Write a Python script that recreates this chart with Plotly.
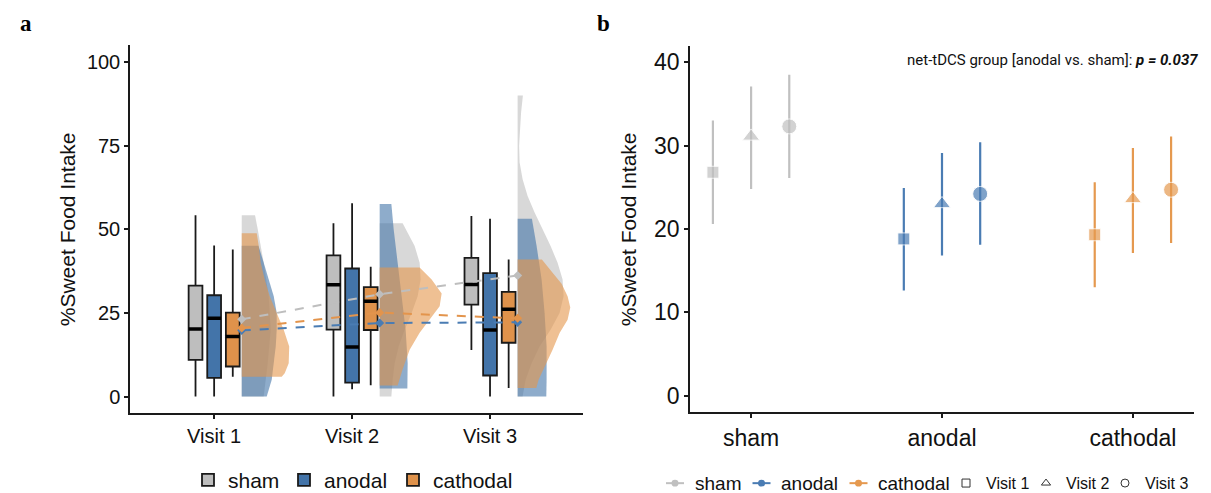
import plotly.graph_objects as go

# ---------------- data ----------------
visits = ["Visit 1", "Visit 2", "Visit 3"]
groups = ["sham", "anodal", "cathodal"]

# Panel a: box statistics (Visit 1, Visit 2, Visit 3)
sham_low = [0.0, 0.0, 13.9]
sham_q1 = [11.0, 20.0, 27.5]
sham_med = [20.2, 33.4, 33.5]
sham_q3 = [33.2, 42.2, 41.5]
sham_high = [54.2, 51.8, 54.0]

anodal_low = [0.0, 2.2, 0.0]
anodal_q1 = [5.6, 4.2, 6.3]
anodal_med = [23.4, 14.8, 19.9]
anodal_q3 = [30.3, 38.3, 36.9]
anodal_high = [45.2, 57.8, 53.2]

cathodal_low = [5.9, 3.4, 2.6]
cathodal_q1 = [9.0, 19.9, 16.1]
cathodal_med = [18.0, 28.5, 26.1]
cathodal_q3 = [25.1, 32.7, 31.3]
cathodal_high = [44.0, 38.8, 41.0]

# Panel a: group means (dashed lines)
sham_mean = [23.1, 30.6, 36.2]
anodal_mean = [19.8, 22.0, 22.2]
cathodal_mean = [20.5, 25.1, 23.4]

# Panel a: half-violin density profiles (levels and relative density), per visit
sham_dens_y = [
    [54.2, 50, 40, 30, 20, 10, 0],
    [51.8, 45, 40, 35, 30, 25, 20, 15, 10, 5, 0],
    [90, 85, 80, 75, 70, 65, 60, 55, 50, 45, 40, 35, 30, 25, 20, 15, 10, 5, 0],
]
sham_dens = [
    [13.3, 16, 22, 27, 29, 26, 22],
    [23, 35, 40, 41, 38, 32, 25, 19, 15, 13, 11.7],
    [5.3, 3.5, 2.2, 1.5, 2, 5, 10, 17, 25, 33, 40, 45, 46, 42, 33, 22, 14, 8, 5],
]
anodal_dens_y = [
    [45.1, 40, 35, 30, 25, 20, 15, 10, 5, 0],
    [57.6, 50, 40, 30, 20, 10, 2.4],
    [53.2, 45, 35, 25, 15, 5, 0],
]
anodal_dens = [
    [16.7, 22, 27, 32, 35, 35, 34, 32, 30, 25],
    [11.7, 14, 18, 22, 26, 28, 27.7],
    [14.3, 19, 24, 27, 29, 29, 28.7],
]
cathodal_dens_y = [
    [48.8, 45, 40, 35, 30, 25, 20, 15, 10, 7, 5.9],
    [38.6, 35, 30.8, 27, 24.1, 19.1, 14, 8.2, 3.3],
    [41.0, 37, 33.7, 30, 26.6, 23, 19, 14, 9.4, 5, 2.6],
]
cathodal_dens = [
    [15, 17, 19, 23, 28, 35, 42, 47.5, 47, 43, 40],
    [40, 52, 62, 60, 53, 40, 30, 23, 18],
    [24.3, 35, 44, 50, 52.7, 50, 42, 35, 27.7, 21, 18.7],
]

# Panel b: estimated means with intervals (Visit 1, 2, 3)
b_sham = [26.8, 31.1, 32.3]
b_sham_lo = [20.6, 24.8, 26.1]
b_sham_hi = [33.0, 37.1, 38.5]
b_anodal = [18.8, 23.0, 24.2]
b_anodal_lo = [12.6, 16.8, 18.1]
b_anodal_hi = [24.9, 29.1, 30.4]
b_cathodal = [19.3, 23.6, 24.7]
b_cathodal_lo = [13.0, 17.1, 18.3]
b_cathodal_hi = [25.6, 29.7, 31.1]

# ---------------- styles ----------------
BOX_COL = {"sham": "#BEBEBE", "anodal": "#4374A9", "cathodal": "#DF924B"}
VIO_COL = {"sham": "rgba(190,190,190,0.6)", "anodal": "rgba(67,116,169,0.6)",
           "cathodal": "rgba(228,150,75,0.6)"}
LINE_COL = {"sham": "#BEBEBE", "anodal": "#4A7CB3", "cathodal": "#E3944C"}
B_COL = {"sham": "#C0C0C0", "anodal": "#4A7CB3", "cathodal": "#E5994F"}
FONT = "Liberation Sans, Arial, sans-serif"
DODGE = 0.135
BOX_W = 0.1
VIO_OFF = 0.2
DENS_SCALE = 1 / 138.0
B_DODGE = 0.2
SYMBOLS = ["square", "triangle-up", "circle"]
SIZES = [12, 15, 15]
W, H = 1211, 493

# legend placement (pixels)
LEG_A_X = [180, 276, 385]
LEG_A_Y = 480
LEG_B_TEXT_X = [685.5, 772, 869]
LEG_B_VX = [938, 1018, 1097]
LEG_B_Y = 483

stats = {
    "sham": (sham_low, sham_q1, sham_med, sham_q3, sham_high, sham_mean,
             sham_dens_y, sham_dens),
    "anodal": (anodal_low, anodal_q1, anodal_med, anodal_q3, anodal_high, anodal_mean,
               anodal_dens_y, anodal_dens),
    "cathodal": (cathodal_low, cathodal_q1, cathodal_med, cathodal_q3, cathodal_high,
                 cathodal_mean, cathodal_dens_y, cathodal_dens),
}
bstats = {
    "sham": (b_sham, b_sham_lo, b_sham_hi),
    "anodal": (b_anodal, b_anodal_lo, b_anodal_hi),
    "cathodal": (b_cathodal, b_cathodal_lo, b_cathodal_hi),
}

vis_pos = [1, 2, 3]
fig = go.Figure()

# half violins (drawn first: sham, anodal, cathodal)
for g in groups:
    dy, dw = stats[g][6], stats[g][7]
    for i, p in enumerate(vis_pos):
        base = p + VIO_OFF
        xs = [base] + [base + w * DENS_SCALE for w in dw[i]] + [base, base]
        ys = [dy[i][0]] + dy[i] + [dy[i][-1], dy[i][0]]
        fig.add_trace(go.Scatter(x=xs, y=ys, mode="lines", fill="toself",
                                 fillcolor=VIO_COL[g], line=dict(width=0),
                                 hoverinfo="skip", showlegend=False,
                                 xaxis="x", yaxis="y"))

# boxes
for k, g in enumerate(groups):
    low, q1, med, q3, high = stats[g][:5]
    xs = [p + (k - 1) * DODGE for p in vis_pos]
    fig.add_trace(go.Box(x=xs, lowerfence=low, q1=q1, median=med, q3=q3,
                         upperfence=high, width=BOX_W, whiskerwidth=0,
                         fillcolor=BOX_COL[g], line=dict(color="#1a1a1a", width=1.8),
                         name=g, legend="legend" if k == 0 else "legend%d" % (k + 1),
                         boxpoints=False, xaxis="x", yaxis="y"))
    # thick median bar
    for x0, m in zip(xs, med):
        fig.add_trace(go.Scatter(x=[x0 - BOX_W / 2, x0 + BOX_W / 2], y=[m, m],
                                 mode="lines", line=dict(color="black", width=3.5),
                                 showlegend=False, hoverinfo="skip",
                                 xaxis="x", yaxis="y"))

# dashed mean lines
for g in groups:
    mean = stats[g][5]
    fig.add_trace(go.Scatter(x=[p + VIO_OFF for p in vis_pos], y=mean,
                             mode="lines+markers",
                             line=dict(color=LINE_COL[g], width=2, dash="dash"),
                             marker=dict(symbol="diamond", size=7, color=LINE_COL[g]),
                             showlegend=False, xaxis="x", yaxis="y"))

# panel b points with intervals
for k, g in enumerate(groups):
    m, lo, hi = bstats[g]
    xs = [k + 1 + (i - 1) * B_DODGE for i in range(3)]
    fig.add_trace(go.Scatter(
        x=xs, y=m, mode="markers",
        marker=dict(symbol=SYMBOLS, size=SIZES, color=B_COL[g]),
        error_y=dict(type="data", symmetric=False,
                     array=[h - v for h, v in zip(hi, m)],
                     arrayminus=[v - l for v, l in zip(m, lo)],
                     color=B_COL[g], thickness=2.2, width=0),
        showlegend=False, xaxis="x2", yaxis="y2"))

# visit legend entries for panel b (one legend per item for exact placement)
for i, v in enumerate(visits):
    fig.add_trace(go.Scatter(x=[None], y=[None], mode="markers", name=v,
                             marker=dict(symbol=SYMBOLS[i] + "-open", size=8,
                                         color="#333333", line=dict(width=1)),
                             legend="legend%d" % (4 + i), xaxis="x2", yaxis="y2"))

axis_common = dict(showline=True, linecolor="#1a1a1a", linewidth=1.5, ticks="outside",
                   ticklen=4, tickwidth=1.5, tickcolor="#1a1a1a", showgrid=False,
                   zeroline=False)


def leg(xpx, ypx, size):
    return dict(orientation="h", x=xpx / W, y=1 - ypx / H, yanchor="middle",
                xanchor="left", font=dict(size=size), bgcolor="rgba(0,0,0,0)",
                borderwidth=0)


legends = {}
for k in range(3):
    legends["legend" if k == 0 else "legend%d" % (k + 1)] = leg(LEG_A_X[k], LEG_A_Y, 21)
    legends["legend%d" % (4 + k)] = leg(LEG_B_VX[k], LEG_B_Y, 16)

# manual group key for panel b (short line + dot + label)
shapes = []
annotations = []
yk = 1 - LEG_B_Y / H
for k, g in enumerate(groups):
    cx = LEG_B_TEXT_X[k] - 18.5
    shapes.append(dict(type="line", xref="paper", yref="paper", x0=(cx - 9) / W,
                       x1=(cx + 9) / W, y0=yk, y1=yk,
                       line=dict(color=B_COL[g], width=2)))
    shapes.append(dict(type="circle", xref="paper", yref="paper", x0=(cx - 3.5) / W,
                       x1=(cx + 3.5) / W, y0=yk - 3.5 / H, y1=yk + 3.5 / H,
                       fillcolor=B_COL[g], line=dict(width=0)))
    annotations.append(dict(text=g, x=LEG_B_TEXT_X[k] / W, y=yk, xref="paper",
                            yref="paper", xanchor="left", yanchor="middle",
                            showarrow=False, borderpad=0,
                            font=dict(size=19, color="#111111")))

serif = dict(family="Liberation Serif, Times New Roman, serif", size=23, color="black")
annotations += [
    dict(text="<b>a</b>", x=10 / W, y=1 - 1 / H, xref="paper", yref="paper",
         xanchor="left", yanchor="top", showarrow=False, font=serif),
    dict(text="<b>b</b>", x=587 / W, y=1 - 1 / H, xref="paper", yref="paper",
         xanchor="left", yanchor="top", showarrow=False, font=serif),
    dict(text="net-tDCS group [anodal vs. sham]: <b><i>p = 0.037</i></b>",
         x=897 / W, y=1 - 53 / H, xref="paper", yref="paper", xanchor="left",
         yanchor="middle", showarrow=False,
         font=dict(family="Roboto, sans-serif", size=15, color="#111111")),
]

fig.update_layout(
    width=W, height=H, margin=dict(l=0, r=0, t=0, b=0),
    paper_bgcolor="white", plot_bgcolor="white",
    font=dict(family=FONT, color="#111111"),
    xaxis=dict(domain=[122 / W, 575 / W], range=[0.39, 3.674], tickvals=vis_pos,
               ticktext=visits, tickfont=dict(size=20), anchor="y", **axis_common),
    yaxis=dict(domain=[1 - 412 / H, 1 - 38 / H], range=[-5, 105],
               tickvals=[0, 25, 50, 75, 100], tickfont=dict(size=20), anchor="x",
               title=dict(text="%Sweet Food Intake", font=dict(size=21), standoff=6),
               **axis_common),
    xaxis2=dict(domain=[682 / W, 1186 / W], range=[0.68, 3.32], tickvals=[1, 2, 3],
                ticktext=groups, tickfont=dict(size=23), anchor="y2", **axis_common),
    yaxis2=dict(domain=[1 - 411 / H, 1 - 39 / H], range=[-2, 41.9],
                tickvals=[0, 10, 20, 30, 40], tickfont=dict(size=23), anchor="x2",
                title=dict(text="%Sweet Food Intake", font=dict(size=21), standoff=12),
                **axis_common),
    shapes=shapes,
    annotations=annotations,
    **legends,
)

fig.write_html("out.html")
